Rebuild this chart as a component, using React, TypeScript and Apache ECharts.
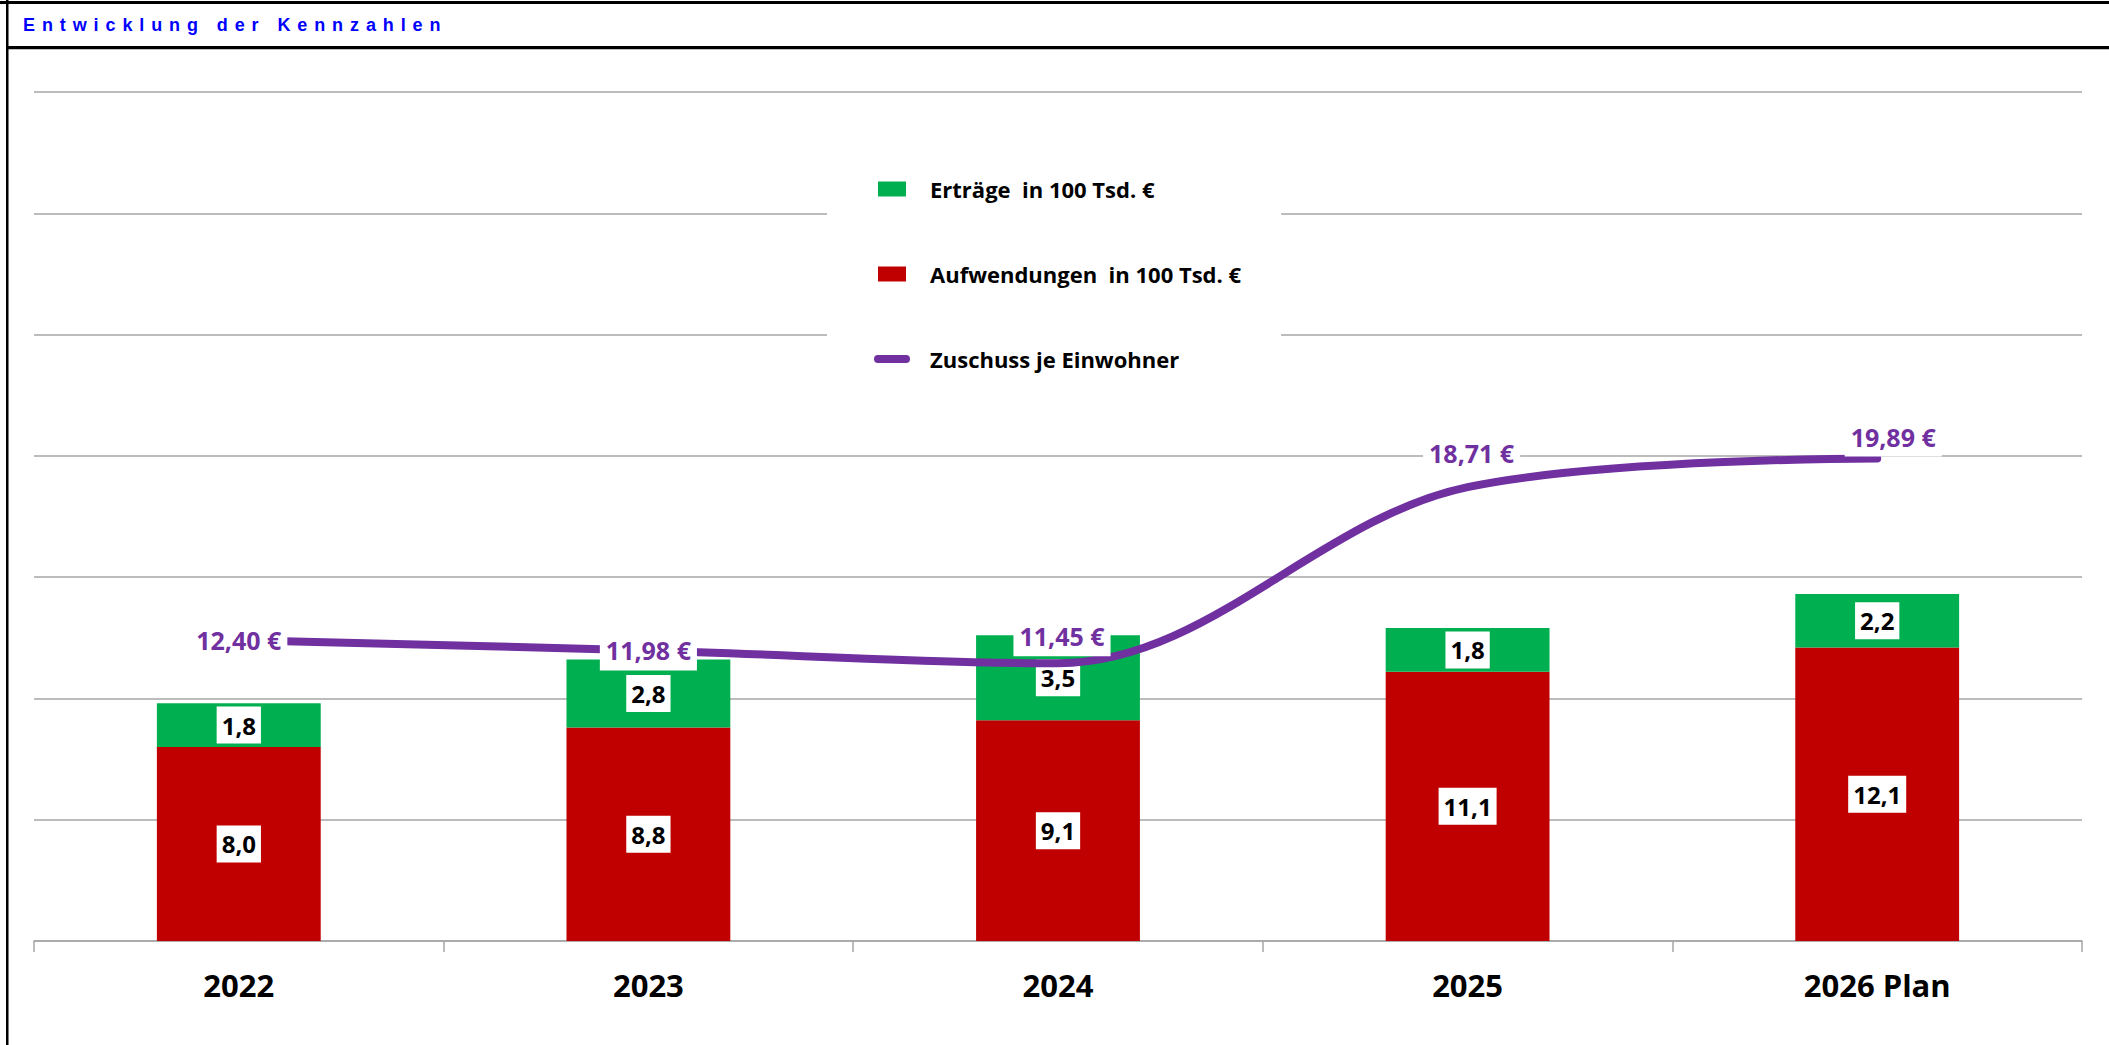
import React, { useEffect, useRef } from "react";
import * as echarts from "echarts";

const TITLE = "Entwicklung der Kennzahlen";
const categories = ["2022", "2023", "2024", "2025", "2026 Plan"];
const aufwendungen = [8.0, 8.8, 9.1, 11.1, 12.1];
const ertraege = [1.8, 2.8, 3.5, 1.8, 2.2];
const zuschuss = [12.4, 11.98, 11.45, 18.71, 19.89];
const seriesNames = [
  "Erträge  in 100 Tsd. €",
  "Aufwendungen  in 100 Tsd. €",
  "Zuschuss je Einwohner",
];
const yMin = 0;
const yMax = 35;
const yInterval = 5;

// label placement offsets for the line labels (style only)
const lineLabelOffsets = [
  [0, 0],
  [0, 0],
  [4, -27],
  [4, -34],
  [16, -22],
];

const FONT = "'Open Sans', 'DejaVu Sans', sans-serif";
const GRID = "#A6A6A6";

const fmt1 = (v: number) => v.toFixed(1).replace(".", ",");
const fmt2 = (v: number) => v.toFixed(2).replace(".", ",") + " €";

export default function App() {
  const ref = useRef<HTMLDivElement>(null);

  useEffect(() => {
    if (!ref.current) return;
    const chart = echarts.init(ref.current, undefined, { renderer: "svg" });

    const barLabel = {
      show: true,
      position: "inside",
      formatter: (p: any) => fmt1(p.value),
      color: "#000",
      fontFamily: FONT,
      fontWeight: "bold",
      fontSize: 24,
      lineHeight: 28,
      backgroundColor: "#fff",
      padding: [5, 5, 4, 5],
    };

    chart.setOption({
      animation: false,
      backgroundColor: "#fff",
      grid: { left: 34, right: 27, top: 92, bottom: 104, containLabel: false },
      legend: {
        orient: "vertical",
        left: 827,
        top: 150,
        padding: [24, 40, 24, 47],
        backgroundColor: "#fff",
        itemWidth: 28,
        itemHeight: 15,
        itemGap: 55,
        selectedMode: false,
        data: [
          { name: seriesNames[0], icon: "rect" },
          { name: seriesNames[1], icon: "rect" },
          { name: seriesNames[2], itemStyle: { opacity: 0 } },
        ],
        lineStyle: { width: 8, cap: "round" },
        textStyle: {
          fontFamily: FONT,
          fontWeight: "bold",
          fontSize: 22,
          color: "#000",
          lineHeight: 30,
          padding: [0, 0, 0, 19],
        },
      },
      xAxis: {
        type: "category",
        data: categories,
        axisLine: { lineStyle: { color: GRID, width: 1.5 } },
        axisTick: { show: true, length: 11, lineStyle: { color: GRID, width: 1.5 } },
        axisLabel: {
          color: "#000",
          fontFamily: FONT,
          fontWeight: "bold",
          fontSize: 31,
          lineHeight: 36,
          margin: 26,
        },
      },
      yAxis: {
        type: "value",
        min: yMin,
        max: yMax,
        interval: yInterval,
        axisLabel: { show: false },
        axisLine: { show: false },
        axisTick: { show: false },
        splitLine: { lineStyle: { color: GRID, width: 1.5 } },
      },
      series: [
        {
          type: "bar",
          name: seriesNames[1],
          stack: "s",
          data: aufwendungen,
          barWidth: "40%",
          itemStyle: { color: "#C00000" },
          label: barLabel,
          emphasis: { disabled: true },
        },
        {
          type: "bar",
          name: seriesNames[0],
          stack: "s",
          data: ertraege,
          barWidth: "40%",
          itemStyle: { color: "#00B050" },
          label: barLabel,
          emphasis: { disabled: true },
        },
        {
          type: "line",
          name: seriesNames[2],
          data: zuschuss.map((v, i) => ({
            value: v,
            label: { offset: lineLabelOffsets[i] },
          })),
          smooth: 0.35,
          symbol: "circle",
          symbolSize: 1,
          showSymbol: true,
          lineStyle: { color: "#7030A0", width: 8, cap: "round" },
          itemStyle: { color: "#7030A0" },
          emphasis: { disabled: true },
          label: {
            show: true,
            position: "inside",
            formatter: (p: any) => fmt2(p.value),
            color: "#7030A0",
            fontFamily: FONT,
            fontWeight: "bold",
            fontSize: 25,
            lineHeight: 30,
            backgroundColor: "#fff",
            padding: [5, 6, 5, 6],
          },
        },
      ],
      graphic: [
        { type: "rect", silent: true, shape: { x: 0, y: 1, width: 2109, height: 3 }, style: { fill: "#000" } },
        { type: "rect", silent: true, shape: { x: 6, y: 0, width: 2.5, height: 1045 }, style: { fill: "#000" } },
        { type: "rect", silent: true, shape: { x: 6, y: 46, width: 2103, height: 3.3 }, style: { fill: "#000" } },
        {
          type: "text",
          silent: true,
          x: 23,
          y: 25,
          style: {
            text: TITLE,
            fill: "#0000FF",
            fontFamily: "'Liberation Sans', Arial, sans-serif",
            fontWeight: "bold",
            fontSize: 18,
            verticalAlign: "middle",
            align: "left",
          },
        },
      ],
    });

    const applySpacing = () => {
      const root = ref.current;
      if (!root) return;
      root.querySelectorAll("text").forEach((t) => {
        if (t.textContent === TITLE) {
          t.setAttribute("letter-spacing", "6.9");
          (t as any).style.letterSpacing = "6.9px";
        }
      });
    };
    applySpacing();
    chart.on("finished", applySpacing);
    const timer = setTimeout(applySpacing, 50);

    return () => {
      clearTimeout(timer);
      chart.dispose();
    };
  }, []);

  return (
    <div
      ref={ref}
      style={{ position: "fixed", left: 0, top: 0, width: 2109, height: 1045, background: "#fff" }}
    />
  );
}
